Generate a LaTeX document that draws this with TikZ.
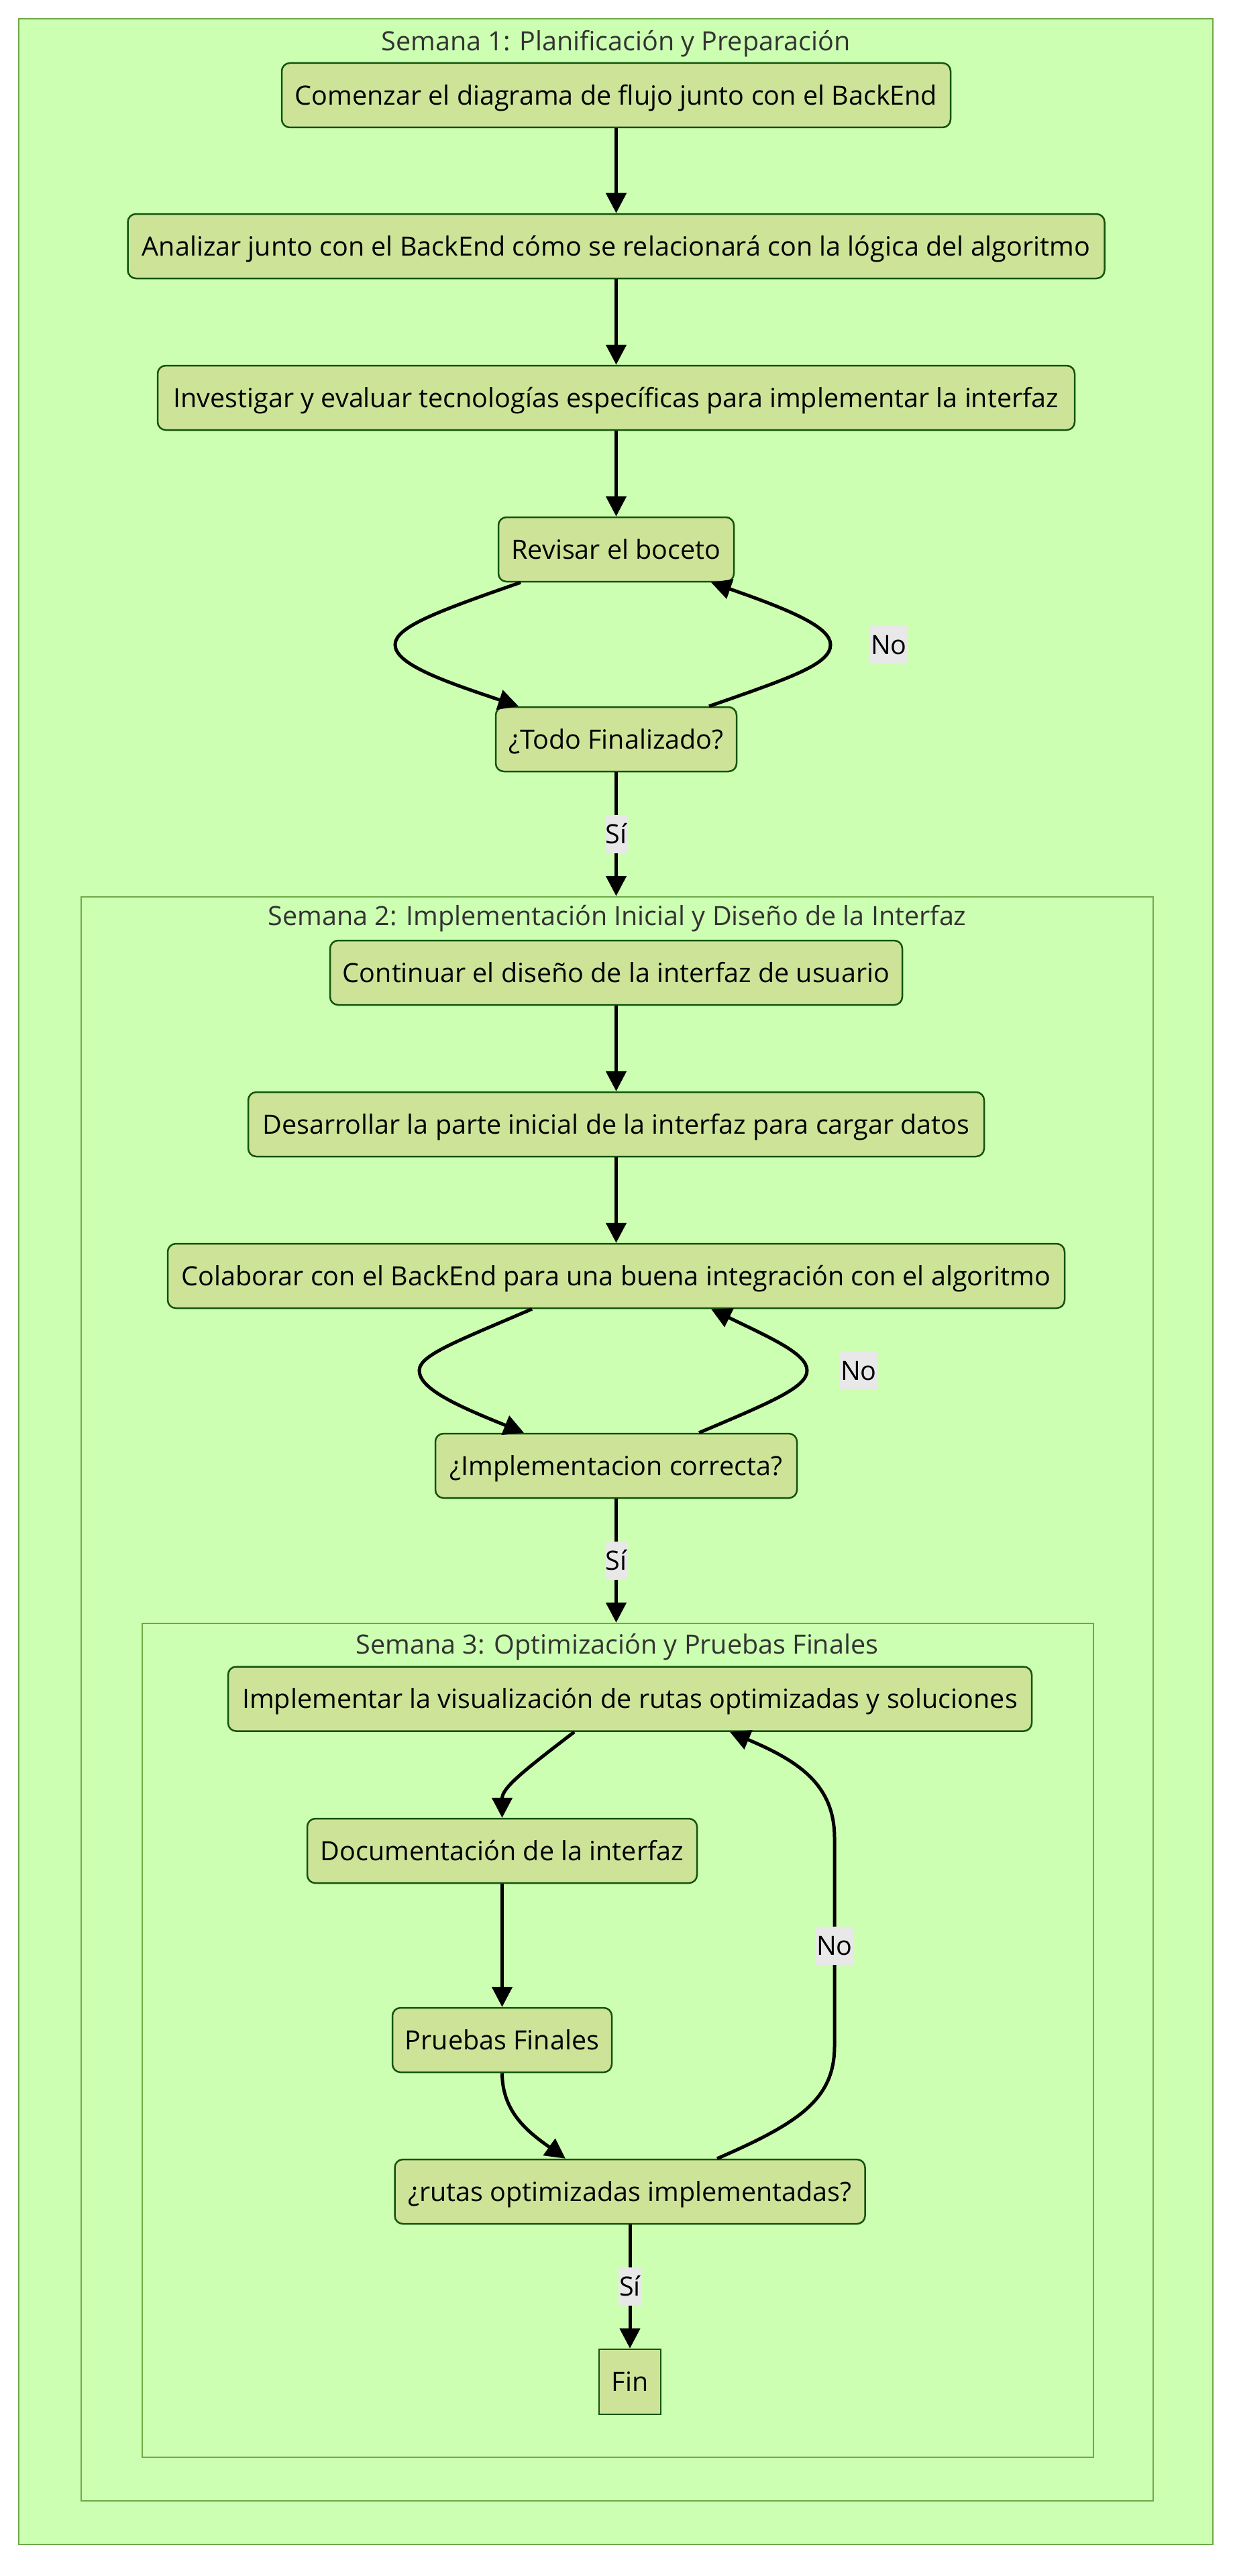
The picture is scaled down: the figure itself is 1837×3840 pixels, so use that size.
\documentclass[tikz,border=0pt]{standalone}
\usepackage{fontspec}
\setmainfont{Open Sans}
\usetikzlibrary{arrows.meta}
\definecolor{clbg}{HTML}{CDFFB2}
\definecolor{clbd}{HTML}{6EAA49}
\definecolor{ndbg}{HTML}{CDE498}
\definecolor{ndbd}{HTML}{13540C}
\definecolor{lblbg}{HTML}{E8E8E8}
\definecolor{ttl}{HTML}{333333}
\begin{document}
\begin{tikzpicture}[x=1pt,y=-1pt,
  txt/.style={font=\fontsize{39.5}{47}\selectfont, text height=37.5pt, text depth=9.3pt},
  cluster/.style={draw=clbd, fill=clbg, line width=2.5pt, inner sep=0pt},
  stepbox/.style={txt, draw=ndbd, fill=ndbg, line width=2.5pt, rounded corners=12pt, minimum height=96pt, inner sep=0pt, text=black},
  ttlnode/.style={txt, text=ttl, inner sep=0pt},
  lbl/.style={txt, fill=lblbg, inner xsep=1pt, inner ysep=0pt, minimum height=57pt},
  flow/.style={line width=5pt, -{Triangle[length=30pt,width=30pt]}},
]
\useasboundingbox (0,0) rectangle (1837,3840);
\fill[white] (0,0) rectangle (1837,3840);
% clusters
\node[cluster, minimum width=1780pt, minimum height=3765pt] (c1) at (918,1910.5) {};
\node[cluster, minimum width=1598pt, minimum height=2391pt] (c2) at (920,2532.5) {};
\node[cluster, minimum width=1418pt, minimum height=1243pt] (c3) at (921,3041.5) {};
\node[ttlnode] (t1) at (918,61) {Semana 1: Planificación y Preparación};
\node[ttlnode] (t2) at (920,1365) {Semana 2: Implementación Inicial y Diseño de la Interfaz};
\node[ttlnode] (t3) at (920,2451) {Semana 3: Optimización y Pruebas Finales};
% nodes
\node[stepbox, minimum width=997pt] (n1) at (918.5,142) {Comenzar el diagrama de flujo junto con el BackEnd};
\node[stepbox, minimum width=1456pt] (n2) at (918.5,367) {Analizar junto con el BackEnd cómo se relacionará con la lógica del algoritmo};
\node[stepbox, minimum width=1367pt] (n3) at (918.5,593) {Investigar y evaluar tecnologías específicas para implementar la interfaz};
\node[stepbox, minimum width=351pt] (n4) at (918.5,819) {Revisar el boceto};
\node[stepbox, minimum width=359pt] (n5) at (918.5,1102) {¿Todo Finalizado?};
\node[stepbox, minimum width=853pt] (n6) at (918.5,1450) {Continuar el diseño de la interfaz de usuario};
\node[stepbox, minimum width=1097pt] (n7) at (918.5,1676) {Desarrollar la parte inicial de la interfaz para cargar datos};
\node[stepbox, minimum width=1337pt] (n8) at (918.5,1902) {Colaborar con el BackEnd para una buena integración con el algoritmo};
\node[stepbox, minimum width=539pt] (n9) at (918.5,2185) {¿Implementacion correcta?};
\node[stepbox, minimum width=1198pt] (n10) at (939,2532.5) {Implementar la visualización de rutas optimizadas y soluciones};
\node[stepbox, minimum width=581pt] (n11) at (748.5,2759) {Documentación de la interfaz};
\node[stepbox, minimum width=327pt] (n12) at (748.5,3041) {Pruebas Finales};
\node[stepbox, minimum width=701pt] (n13) at (939,3267) {¿rutas optimizadas implementadas?};
\node[stepbox, rounded corners=0pt, minimum width=92pt, minimum height=97pt] (n14) at (939,3550.5) {Fin};
% edges week 1
\draw[flow] (n1.south) -- (n1.south |- n2.north);
\draw[flow] (n2.south) -- (n2.south |- n3.north);
\draw[flow] (n3.south) -- (n3.south |- n4.north);
\draw[flow] ([xshift=-142.5pt]n4.south) .. controls (650,912) and (589,935) .. (589,961)
  .. controls (589,990) and (660,1015) .. ([xshift=-145.5pt]n5.north);
\draw[flow] ([xshift=138.5pt]n5.north) .. controls (1180,1010) and (1238,990) .. (1238,961)
  .. controls (1238,935) and (1180,910) .. ([xshift=141.5pt]n4.south);
\node[lbl] (l1) at (1325,961) {No};
\draw[flow] (n5.south) -- node[lbl] (l2) {Sí} (n5.south |- c2.north);
% edges week 2
\draw[flow] (n6.south) -- (n6.south |- n7.north);
\draw[flow] (n7.south) -- (n7.south |- n8.north);
\draw[flow] ([xshift=-125.5pt]n8.south) .. controls (680,2000) and (625,2020) .. (625,2043)
  .. controls (625,2070) and (680,2095) .. ([xshift=-137.5pt]n9.north);
\draw[flow] ([xshift=123.5pt]n9.north) .. controls (1150,2090) and (1203,2068) .. (1203,2043)
  .. controls (1203,2018) and (1150,1995) .. ([xshift=141.5pt]n8.south);
\node[lbl] (l3) at (1280,2043) {No};
\draw[flow] (n9.south) -- node[lbl] (l4) {Sí} (n9.south |- c3.north);
% edges week 3
\draw[flow] ([xshift=-83pt]n10.south) .. controls (780,2640) and (748.5,2665) .. (n11.north);
\draw[flow] (n11.south) -- (n12.north);
\draw[flow] (n12.south) .. controls (748.5,3150) and (790,3180) .. ([xshift=-96pt]n13.north);
\draw[flow] ([xshift=130pt]n13.north) .. controls (1190,3165) and (1244,3130) .. (1244,3050)
  -- (1244,2740) .. controls (1244,2660) and (1190,2625) .. ([xshift=149pt]n10.south);
\node[lbl] (l5) at (1244,2900) {No};
\draw[flow] (n13.south) -- node[lbl] (l6) {Sí} (n14.north);
\end{tikzpicture}
\end{document}
